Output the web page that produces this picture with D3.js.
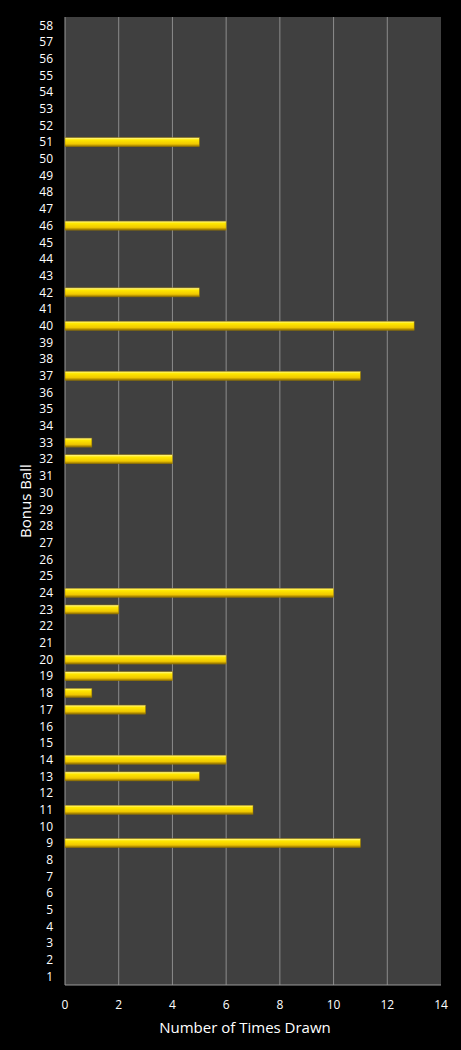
<!DOCTYPE html><html><head><meta charset="utf-8"><script src="https://cdn.jsdelivr.net/npm/d3@7"></script>
<style>body{margin:0;background:#000}</style></head><body><script>
const balls = d3.range(1,59);
const drawnBalls = [51,46,42,40,37,33,32,24,23,20,19,18,17,14,13,11,9];
const drawnCounts = [5,6,5,13,11,1,4,10,2,6,4,1,3,6,5,7,11];
const xTicks = [0,2,4,6,8,10,12,14];
const counts = new Map(drawnBalls.map((b,i)=>[b,drawnCounts[i]]));
const W=461,H=1050,L=65,R=441,T=17,B=985;
const svg=d3.select("body").append("svg").attr("width",W).attr("height",H).style("background","#000");
const x=d3.scaleLinear().domain([0,14]).range([L,R]);
const y=d3.scaleBand().domain(balls.slice().reverse()).range([T,B]);
const defs=svg.append("defs");
const g=defs.append("linearGradient").attr("id","gy").attr("x1",0).attr("y1",0).attr("x2",0).attr("y2",1);
[[0,"#fff9a0"],[0.25,"#ffe800"],[0.7,"#f0c800"],[1,"#8a6a00"]].forEach(([o,c])=>g.append("stop").attr("offset",o).attr("stop-color",c));
svg.append("rect").attr("x",L).attr("y",T).attr("width",R-L).attr("height",B-T).attr("fill","#404040");
svg.append("g").selectAll("line").data(xTicks.slice(1,-1)).join("line")
 .attr("x1",d=>x(d)).attr("x2",d=>x(d)).attr("y1",T).attr("y2",B).attr("stroke","#8c8c8c").attr("stroke-width",1);
svg.append("line").attr("x1",L).attr("x2",L).attr("y1",T).attr("y2",B).attr("stroke","#999");
svg.append("line").attr("x1",L).attr("x2",R).attr("y1",B).attr("y2",B).attr("stroke","#999");
const bh=9;
svg.append("g").selectAll("rect").data(drawnBalls).join("rect")
 .attr("x",L).attr("y",d=>y(d)+y.bandwidth()/2-bh/2).attr("height",bh)
 .attr("width",d=>x(counts.get(d))-L).attr("fill","url(#gy)").attr("stroke","#9a7a00").attr("stroke-width",0.5);
const f="Open Sans, DejaVu Sans, sans-serif";
svg.append("g").selectAll("text").data(balls).join("text")
 .attr("x",53).attr("y",d=>y(d)+y.bandwidth()/2).attr("dy","0.35em").attr("text-anchor","end")
 .attr("fill","#fff").attr("font-size",12).attr("font-family",f).text(d=>d);
svg.append("g").selectAll("text").data(xTicks).join("text")
 .attr("x",d=>x(d)).attr("y",1009).attr("text-anchor","middle")
 .attr("fill","#fff").attr("font-size",12).attr("font-family",f).text(d=>d);
svg.append("text").attr("x",(L+R)/2-8).attr("y",1033).attr("text-anchor","middle").attr("fill","#fff")
 .attr("font-size",15).attr("font-family",f).text("Number of Times Drawn");
svg.append("text").attr("transform",`translate(31,${(T+B)/2}) rotate(-90)`).attr("text-anchor","middle").attr("fill","#fff")
 .attr("font-size",15).attr("font-family",f).text("Bonus Ball");
</script></body></html>
